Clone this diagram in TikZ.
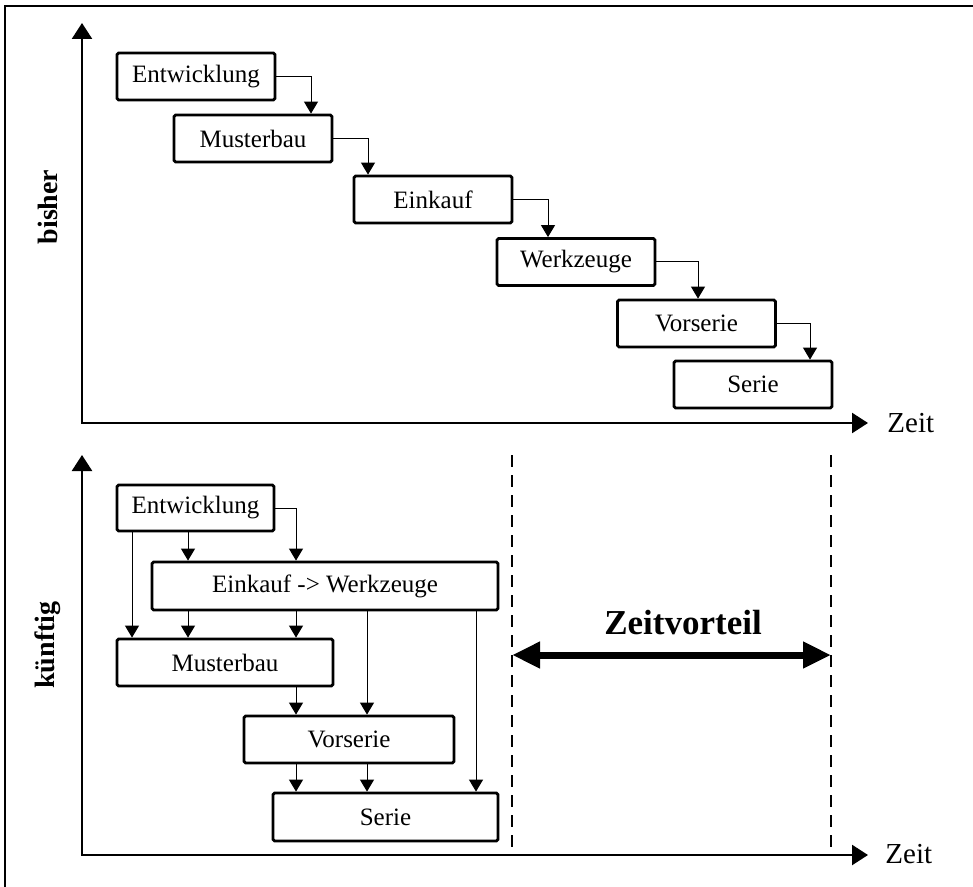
\documentclass[tikz,border=0pt]{standalone}
\usepackage{fontspec}
\setmainfont{Liberation Serif}
\usetikzlibrary{arrows.meta,calc}
\begin{document}
\begin{tikzpicture}[x=0.5pt,y=-0.5pt,
  box/.style={draw,line width=1.4pt,rounded corners=0.8pt,inner sep=0pt,
    minimum height=23.5pt,font=\fontsize{12.5}{14}\selectfont},
  conn/.style={line width=0.5pt,-{Triangle[width=7pt,length=6pt]}},
  axis/.style={line width=1.2pt,
    {Triangle[width=10pt,length=8pt]}-{Triangle[width=10pt,length=8pt]}},
  sidelabel/.style={rotate=90,inner sep=0pt,font=\fontsize{14}{16}\bfseries\selectfont},
  timelabel/.style={anchor=base west,inner sep=0pt,font=\fontsize{14.5}{16}\selectfont},
  guide/.style={line width=1pt,dash pattern=on 6pt off 4pt},
  gain/.style={line width=3.5pt,
    {Triangle[width=12.5pt,length=14pt]}-{Triangle[width=12.5pt,length=14pt]}}]
\useasboundingbox (0,0) rectangle (973,887);

% outer frame
\draw[line width=1pt] (5,887) -- (5,6) -- (973,6);

% ---------- upper chart: sequential process ----------
\coordinate (Y1) at (82,23);
\coordinate (O1) at (82,423);
\coordinate (X1) at (868,423);
\draw[axis] (Y1) -- (O1) -- (X1);
\node[timelabel] (Z1) at (887,432) {Zeit};
\node[sidelabel] (B1) at (48,207) {bisher};

\node[box,minimum width=79pt] (E1) at (196,76.5) {Entwicklung};
\node[box,minimum width=79pt] (M1) at (253,138.5) {Musterbau};
\node[box,minimum width=79pt] (K1) at (433,199.5) {Einkauf};
\node[box,minimum width=79pt] (W1) at (576,262) {Werkzeuge};
\node[box,minimum width=79pt] (V1) at (696.5,323.5) {Vorserie};
\node[box,minimum width=79pt] (S1) at (753,384.5) {Serie};

\coordinate (u1) at (311,0);
\coordinate (u2) at (368,0);
\coordinate (u3) at (548,0);
\coordinate (u4) at (698,0);
\coordinate (u5) at (810,0);
\draw[conn] (E1.east) -| (M1.north -| u1);
\draw[conn] (M1.east) -| (K1.north -| u2);
\draw[conn] (K1.east) -| (W1.north -| u3);
\draw[conn] (W1.east) -| (V1.north -| u4);
\draw[conn] (V1.east) -| (S1.north -| u5);

% ---------- lower chart: overlapping process ----------
\coordinate (Y2) at (82,455);
\coordinate (O2) at (82,855);
\coordinate (X2) at (868,855);
\draw[axis] (Y2) -- (O2) -- (X2);
\node[timelabel] (Z2) at (885,863) {Zeit};
\node[sidelabel] (B2) at (48,645) {künftig};

\node[box,minimum width=78.5pt,minimum height=23pt] (E2) at (195.5,508) {Entwicklung};
\node[box,minimum width=173pt,minimum height=24pt] (EW) at (325,586) {Einkauf -> Werkzeuge};
\node[box,minimum width=108pt] (M2) at (225,662.5) {Musterbau};
\node[box,minimum width=105pt] (V2) at (349,739.5) {Vorserie};
\node[box,minimum width=112.5pt,minimum height=24pt] (S2) at (385.5,817) {Serie};

\coordinate (la) at (132,0);
\coordinate (lb) at (188,0);
\coordinate (lc) at (296,0);
\coordinate (ld) at (367,0);
\coordinate (le) at (476,0);
\draw[conn] (E2.south -| la) -- (M2.north -| la);
\draw[conn] (E2.south -| lb) -- (EW.north -| lb);
\draw[conn] (E2.east) -| (EW.north -| lc);
\draw[conn] (EW.south -| lb) -- (M2.north -| lb);
\draw[conn] (EW.south -| lc) -- (M2.north -| lc);
\draw[conn] (EW.south -| ld) -- (V2.north -| ld);
\draw[conn] (EW.south -| le) -- (S2.north -| le);
\draw[conn] (M2.south -| lc) -- (V2.north -| lc);
\draw[conn] (V2.south -| lc) -- (S2.north -| lc);
\draw[conn] (V2.south -| ld) -- (S2.north -| ld);

% time gain between the two end points
\coordinate (g1t) at (512,455);
\coordinate (g1b) at (512,855);
\coordinate (g2t) at (831,455);
\coordinate (g2b) at (831,855);
\draw[guide] (g1t) -- (g1b);
\draw[guide] (g2t) -- (g2b);
\coordinate (g1m) at (512,655);
\coordinate (g2m) at (831,655);
\draw[gain] (g1m) -- (g2m);
\node[anchor=base,inner sep=0pt,font=\fontsize{17.5}{20}\bfseries\selectfont] (ZV) at (683,634) {Zeitvorteil};
\end{tikzpicture}
\end{document}
